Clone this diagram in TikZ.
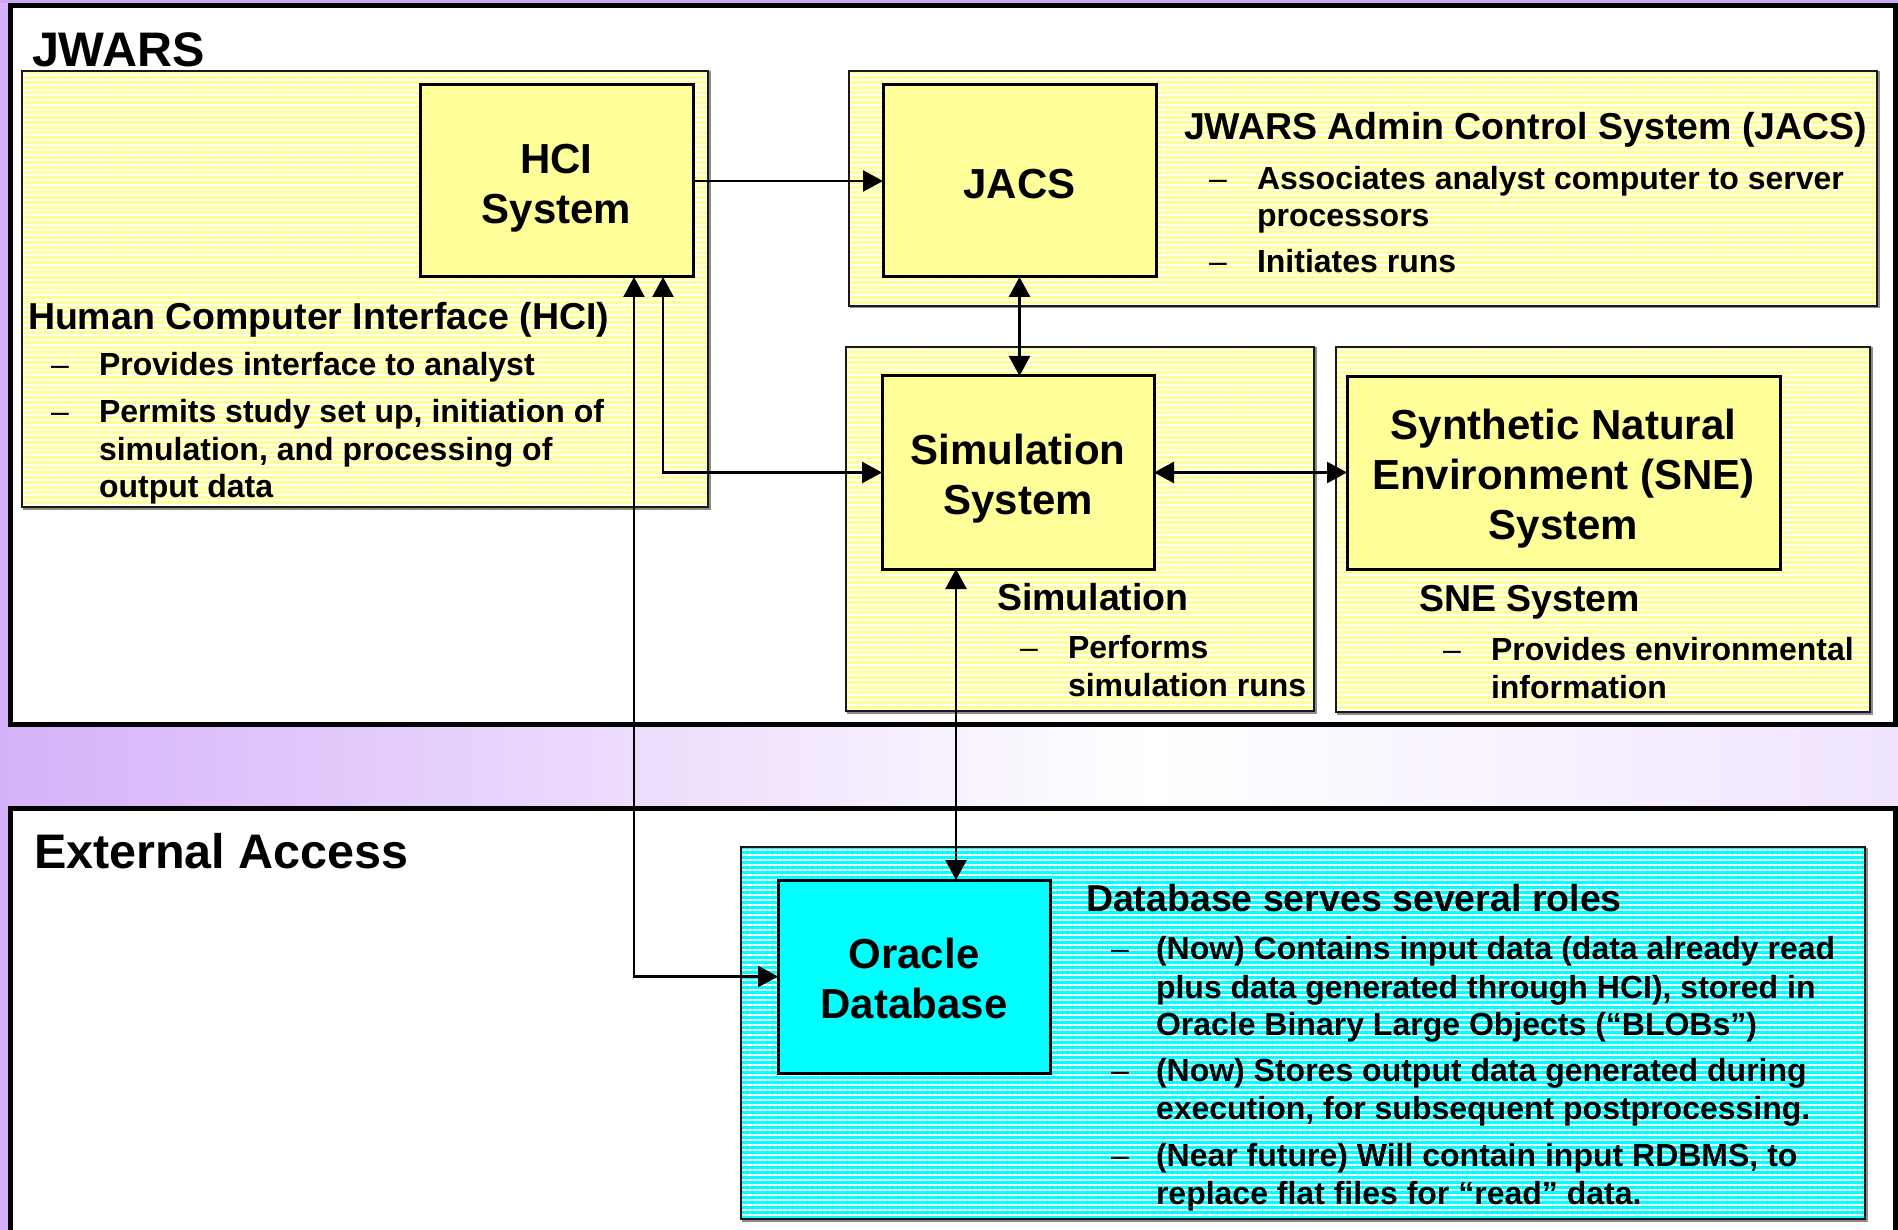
\documentclass[tikz,border=0pt]{standalone}
\usepackage{fontspec}
\setmainfont{Liberation Sans}
\usetikzlibrary{arrows.meta,patterns.meta}

\definecolor{yel}{RGB}{255,255,153}
\definecolor{cya}{RGB}{0,255,255}
\definecolor{bgA}{RGB}{214,178,250}
\definecolor{bgB}{RGB}{240,228,255}
\definecolor{bgTop}{RGB}{205,165,245}

\tikzset{
  frame/.style={draw=black, line width=5pt, fill=white, anchor=north west, inner sep=0pt, outer sep=0pt},
  grpbase/.style={anchor=north west, inner sep=0pt, outer sep=0pt,
    preaction={draw=black!45, line width=2pt, transform canvas={shift={(1.5pt,-1.5pt)}}},
    preaction={fill=#1},
    preaction={pattern={Lines[angle=0,distance=5pt,line width=1.2pt]}, pattern color=white},
    draw=black!90, line width=2.5pt},
  grpY/.style={grpbase=yel},
  grpC/.style={grpbase=cya},
  boxbase/.style={anchor=north west, inner sep=0pt, outer sep=0pt, fill=#1, draw=black, line width=3pt},
  boxY/.style={boxbase=yel},
  boxC/.style={boxbase=cya},
  lbl/.style={inner sep=0pt, outer sep=0pt, align=center, text depth=0pt, font={\bfseries\fontsize{42}{50}\selectfont}},
  txt/.style={anchor=base west, inner sep=0pt, outer sep=0pt, font={\bfseries\fontsize{32}{38}\selectfont}},
  hd/.style={anchor=base west, inner sep=0pt, outer sep=0pt, font={\bfseries\fontsize{37.5}{44}\selectfont}},
  ttl/.style={anchor=base west, inner sep=0pt, outer sep=0pt, font={\bfseries\fontsize{48.5}{56}\selectfont}},
  dsh/.style={anchor=base, inner sep=0pt, outer sep=0pt, font={\fontsize{32}{38}\selectfont}},
  arr/.style={line width=2.5pt, -{Triangle[length=20pt,width=21pt]}},
  arrb/.style={line width=2.5pt, {Triangle[length=20pt,width=21pt]}-{Triangle[length=20pt,width=21pt]}},
}

\begin{document}
\begin{tikzpicture}[x=1pt,y=-1pt]
\useasboundingbox (0,0) rectangle (1898,1230);
\clip (0,0) rectangle (1898,1230);

% background
\shade[left color=bgA, right color=white] (0,0) rectangle (1150,1230);
\shade[left color=white, right color=bgB] (1150,0) rectangle (1898,1230);
\fill[bgTop] (0,0) rectangle (1898,3);

% outer frames
\node[frame, minimum width=1885pt, minimum height=719pt] (jwf) at (10.5,5.5) {};
\node[frame, minimum width=1885pt, minimum height=440pt] (exf) at (10.5,808.5) {};

\node[ttl] (t1) at (32,66.5) {JWARS};
\node[ttl] (t2) at (34,868.5) {External Access};

% groups
\node[grpY, minimum width=686pt, minimum height=436pt] (hcig) at (22,71) {};
\node[grpY, minimum width=1028pt, minimum height=235pt] (jacsg) at (849,71) {};
\node[grpY, minimum width=468pt, minimum height=364pt] (simg) at (846,347) {};
\node[grpY, minimum width=534pt, minimum height=365pt] (sneg) at (1336,347) {};
\node[grpC, minimum width=1124pt, minimum height=372pt] (dbg) at (741,847) {};

% boxes
\node[boxY, minimum width=273pt, minimum height=192pt] (hci) at (420,85) {};
\node[boxY, minimum width=273pt, minimum height=192pt] (jacs) at (883,85) {};
\node[boxY, minimum width=272pt, minimum height=193pt] (sim) at (882,376) {};
\node[boxY, minimum width=433pt, minimum height=192pt] (sne) at (1347,377) {};
\node[boxC, minimum width=272pt, minimum height=193pt] (ora) at (778,880) {};

\node[lbl] (hcil) at ([yshift=-2.5pt]hci.center) {HCI\\System};
\node[lbl] (jacsl) at ([yshift=-2.5pt]jacs.center) {JACS};
\node[lbl] (siml) at ([yshift=-1.3pt]sim.center) {Simulation\\System};
\node[lbl] (snel) at ([yshift=-1.2pt]sne.center) {Synthetic Natural\\Environment (SNE)\\System};
\node[lbl] (oral) at ([yshift=-1.8pt]ora.center) {Oracle\\Database};

% HCI group text
\node[hd] (hh) at (28,329.5) {Human Computer Interface (HCI)};
\node[dsh] (hd1) at (60,376) {–};
\node[txt] (hl1) at (99,376) {Provides interface to analyst};
\node[dsh] (hd2) at (60,422.5) {–};
\node[txt] (hl2) at (99,422.5) {Permits study set up, initiation of};
\node[txt] (hl3) at (99,460) {simulation, and processing of};
\node[txt] (hl4) at (99,497.5) {output data};

% JACS group text
\node[hd] (jh) at (1184,140) {JWARS Admin Control System (JACS)};
\node[dsh] (jd1) at (1218,190) {–};
\node[txt] (jl1) at (1257,190) {Associates analyst computer to server};
\node[txt] (jl2) at (1257,226.5) {processors};
\node[dsh] (jd2) at (1218,272.5) {–};
\node[txt] (jl3) at (1257,272.5) {Initiates runs};

% Simulation group text
\node[hd] (sh) at (997,610) {Simulation};
\node[dsh] (sd1) at (1029,658) {–};
\node[txt] (sl1) at (1068,658) {Performs};
\node[txt] (sl2) at (1068,696) {simulation runs};

% SNE group text
\node[hd] (nh) at (1419,611) {SNE System};
\node[dsh] (nd1) at (1452,660.5) {–};
\node[txt] (nl1) at (1491,660.5) {Provides environmental};
\node[txt] (nl2) at (1491,698.5) {information};

% Database group text
\node[hd] (dh) at (1086,911) {Database serves several roles};
\node[dsh] (dd1) at (1120,959) {–};
\node[txt] (dl1) at (1156,959) {(Now) Contains input data (data already read};
\node[txt] (dl2) at (1156,998.5) {plus data generated through HCI), stored in};
\node[txt] (dl3) at (1156,1035.5) {Oracle Binary Large Objects (“BLOBs”)};
\node[dsh] (dd2) at (1120,1081) {–};
\node[txt] (dl4) at (1156,1081) {(Now) Stores output data generated during};
\node[txt] (dl5) at (1156,1119.5) {execution, for subsequent postprocessing.};
\node[dsh] (dd3) at (1120,1166.5) {–};
\node[txt] (dl6) at (1156,1166.5) {(Near future) Will contain input RDBMS, to};
\node[txt] (dl7) at (1156,1204.5) {replace flat files for “read” data.};

% connectors
\draw[arr] (hci.east) -- (jacs.west);
\draw[arrb] (jacs.south) -- (jacs.south |- sim.north);
\draw[arrb] ([xshift=-30pt]hci.south east) |- (sim.west);
\draw[arrb] ([xshift=-59pt]hci.south east) |- (ora.west);
\coordinate (so) at ([xshift=74pt]sim.south west);
\draw[arrb] (so) -- (so |- ora.north);
\draw[arrb] (sim.east) -- (sim.east -| sne.west);
\end{tikzpicture}
\end{document}
